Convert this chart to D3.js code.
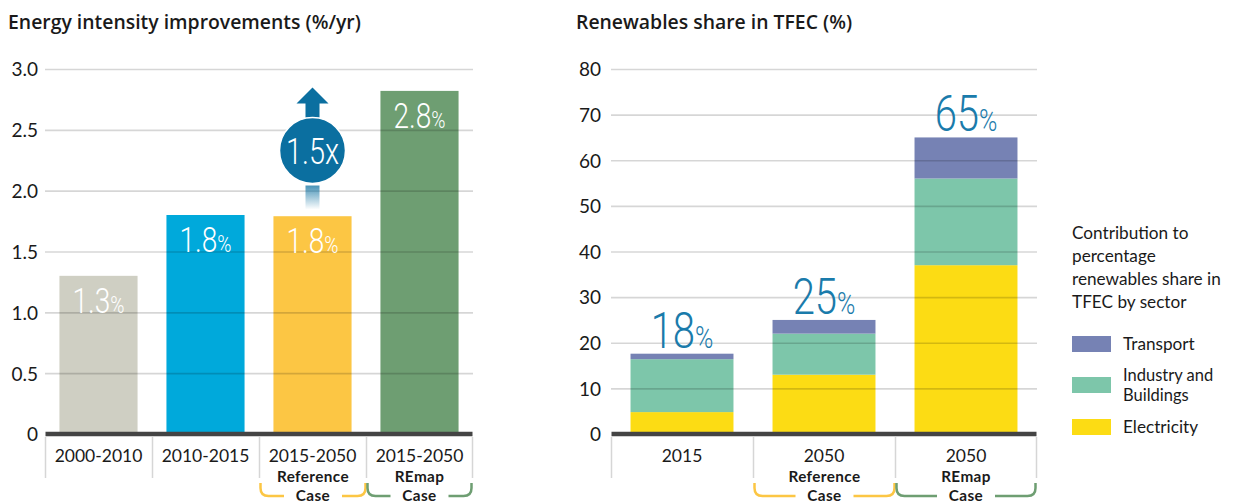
<!DOCTYPE html>
<html><head><meta charset="utf-8">
<script src="https://cdn.jsdelivr.net/npm/d3@7"></script>
<style>
body{margin:0;background:#fff;}
text{font-family:Lato,"Open Sans",sans-serif;fill:#1a1a1a;}
.num{font-family:Roboto,Lato,sans-serif;font-weight:300;}
.ttl{font-family:"Open Sans",Lato,sans-serif;font-weight:600;}
</style></head>
<body><svg id="c" width="1237" height="504"></svg>
<script>
// ---- data: left chart ----
const leftCats = ["2000-2010","2010-2015","2015-2050 Ref","2015-2050 REmap"];
const leftLabels = ["2000-2010","2010-2015","2015-2050","2015-2050"];
const leftValues = [1.3, 1.8, 1.79, 2.82];
const leftText = ["1.3","1.8","1.8","2.8"];
const leftTicks = [0,0.5,1.0,1.5,2.0,2.5,3.0];
const multiplier = "1.5x";
// ---- data: right chart ----
const rightCats = ["2015","2050 Ref","2050 REmap"];
const rightLabels = ["2015","2050","2050"];
const electricity = [4.8, 13.0, 37.0];
const industry = [11.6, 9.0, 19.0];
const transport = [1.2, 3.0, 9.0];
const rightTotals = ["18","25","65"];
const rightTicks = [0,10,20,30,40,50,60,70,80];
const sectors = ["Electricity","Industry and Buildings","Transport"];

const svg = d3.select("#c");
const leftColors = ["#cfcfc3","#00a9db","#fcc644","#6e9e72"];
const secColors = {"Electricity":"#fcdc14","Industry and Buildings":"#7dc6aa","Transport":"#7682b4"};
const blue = "#0b6fa0", labelBlue = "#1a7bab";
const y0 = 434, yTop = 69;

function numLabel(g, x, y, main, sizeMain, sizePct, color){
  const t = g.append("text").attr("class","num")
    .attr("transform",`translate(${x},${y}) scale(0.8,1)`)
    .attr("text-anchor","middle").style("fill",color);
  t.append("tspan").attr("font-size",sizeMain).text(main);
  t.append("tspan").attr("font-size",sizePct).text("%");
}

// ================= LEFT =================
const xL = d3.scaleBand().domain(leftCats).range([45,473]).paddingInner(0.27).paddingOuter(0.135);
const yL = d3.scaleLinear().domain([0,3]).range([y0,yTop]);

svg.append("text").attr("class","ttl").attr("x",8).attr("y",29).attr("font-size",19.4).text("Energy intensity improvements (%/yr)");

const gL = svg.append("g");
gL.selectAll("rect.bar").data(leftValues).join("rect")
  .attr("x",(d,i)=>xL(leftCats[i])).attr("width",xL.bandwidth())
  .attr("y",d=>yL(d)).attr("height",d=>y0-yL(d))
  .attr("fill",(d,i)=>leftColors[i]);

gL.append("g").attr("transform","translate(45,0)")
  .call(d3.axisLeft(yL).tickValues(leftTicks.filter(d=>d>0)).tickSize(-428).tickFormat(""))
  .call(g=>g.select(".domain").remove())
  .call(g=>g.selectAll("line").attr("stroke","#000").attr("stroke-opacity",0.16).attr("stroke-width",1.6));
gL.append("g").attr("transform","translate(38,0)")
  .call(d3.axisLeft(yL).tickValues(leftTicks).tickSize(0).tickPadding(0).tickFormat(d=>d===0?"0":d3.format(".1f")(d)))
  .call(g=>g.select(".domain").remove())
  .call(g=>g.selectAll("text").attr("font-size",19).attr("font-family","Lato,sans-serif").attr("fill","#1a1a1a").attr("dy","0.36em"));

leftValues.forEach((v,i)=>{
  numLabel(gL, xL(leftCats[i])+xL.bandwidth()/2, yL(v)+37, leftText[i], 35, 24, "#fff");
});

// arrow annotation on reference bar
const ax = xL(leftCats[2])+xL.bandwidth()/2;
const defs = svg.append("defs");
const grad = defs.append("linearGradient").attr("id","fade").attr("x1",0).attr("x2",0).attr("y1",0).attr("y2",1);
grad.append("stop").attr("offset","0%").attr("stop-color",blue).attr("stop-opacity",0.75);
grad.append("stop").attr("offset","100%").attr("stop-color",blue).attr("stop-opacity",0);
const cy = yL(2.33), r = 33;
gL.append("rect").attr("x",ax-7).attr("width",14).attr("y",cy+r+2).attr("height",24).attr("fill","url(#fade)");
gL.append("path").attr("fill",blue)
  .attr("d",`M${ax-7},${cy-r+2} V${cy-r-14} H${ax-16} L${ax},${cy-r-30} L${ax+16},${cy-r-14} H${ax+7} V${cy-r+2} Z`);
gL.append("circle").attr("cx",ax).attr("cy",cy).attr("r",r).attr("fill",blue).attr("stroke","#fff").attr("stroke-width",1.5);
gL.append("text").attr("class","num").attr("transform",`translate(${ax},${cy+13}) scale(0.78,1)`)
  .attr("text-anchor","middle").attr("font-size",37).style("fill","#fff").text(multiplier);

function catAxis(g, x, x0, x1, labels, cats){
  const edges = cats.map((c,i)=>x0 + i*x.step()); edges.push(x1);
  g.selectAll("line.div").data(edges).join("line")
    .attr("x1",d=>d).attr("x2",d=>d).attr("y1",y0+3).attr("y2",478)
    .attr("stroke","#d6d6d6").attr("stroke-width",1.5);
  g.append("line").attr("x1",x0).attr("x2",x1).attr("y1",y0).attr("y2",y0).attr("stroke","#444").attr("stroke-width",4.5);
  g.selectAll("text.cat").data(labels).join("text")
    .attr("x",(d,i)=>x(cats[i])+x.bandwidth()/2).attr("y",462)
    .attr("text-anchor","middle").attr("font-size",17.5).text(d=>d);
  return edges;
}
const edgesL = catAxis(gL, xL, 45.5, 472.5, leftLabels, leftCats);

function bracket(g, xa, xb, word, color){
  const cx = (xa+xb)/2, gap = 29, yb = 496, yt = 483;
  g.append("path").attr("fill","none").attr("stroke",color).attr("stroke-width",2.5)
    .attr("d",`M${xa+1},${yt} V${yb-8} Q${xa+1},${yb} ${xa+9},${yb} H${cx-gap} M${cx+gap},${yb} H${xb-9} Q${xb-1},${yb} ${xb-1},${yb-8} V${yt}`);
  g.append("text").attr("x",cx).attr("y",482).attr("text-anchor","middle").attr("font-size",15.3)
    .attr("font-weight",700).attr("letter-spacing",0.4).text(word);
  g.append("text").attr("x",cx).attr("y",501).attr("text-anchor","middle").attr("font-size",15.3)
    .attr("font-weight",700).attr("letter-spacing",0.4).text("Case");
}
bracket(gL, edgesL[2], edgesL[3], "Reference", "#fcc644");
bracket(gL, edgesL[3], edgesL[4], "REmap", "#6e9e72");

// ================= RIGHT =================
const xR = d3.scaleBand().domain(rightCats).range([611,1037]).paddingInner(0.275).paddingOuter(0.1375);
const yR = d3.scaleLinear().domain([0,80]).range([y0,yTop]);

svg.append("text").attr("class","ttl").attr("x",576).attr("y",29).attr("font-size",19.4).text("Renewables share in TFEC (%)");

const gR = svg.append("g");
const table = rightCats.map((c,i)=>({cat:c,"Electricity":electricity[i],"Industry and Buildings":industry[i],"Transport":transport[i]}));
const stacked = d3.stack().keys(sectors)(table);
gR.selectAll("g.s").data(stacked).join("g").attr("fill",d=>secColors[d.key])
  .selectAll("rect").data(d=>d).join("rect")
  .attr("x",d=>xR(d.data.cat)).attr("width",xR.bandwidth())
  .attr("y",d=>yR(d[1])).attr("height",d=>yR(d[0])-yR(d[1]));

gR.append("g").attr("transform","translate(611,0)")
  .call(d3.axisLeft(yR).tickValues(rightTicks.filter(d=>d>0)).tickSize(-426).tickFormat(""))
  .call(g=>g.select(".domain").remove())
  .call(g=>g.selectAll("line").attr("stroke","#000").attr("stroke-opacity",0.16).attr("stroke-width",1.6));
gR.append("g").attr("transform","translate(601,0)")
  .call(d3.axisLeft(yR).tickValues(rightTicks).tickSize(0).tickPadding(0).tickFormat(d3.format("d")))
  .call(g=>g.select(".domain").remove())
  .call(g=>g.selectAll("text").attr("font-size",19).attr("font-family","Lato,sans-serif").attr("fill","#1a1a1a").attr("dy","0.36em"));

table.forEach((d,i)=>{
  const tot = electricity[i]+industry[i]+transport[i];
  numLabel(gR, xR(d.cat)+xR.bandwidth()/2, yR(tot)-6, rightTotals[i], 50, 31, labelBlue);
});

const edgesR = catAxis(gR, xR, 611.5, 1036.5, rightLabels, rightCats);
bracket(gR, edgesR[1], edgesR[2], "Reference", "#fcc644");
bracket(gR, edgesR[2], edgesR[3], "REmap", "#6e9e72");

// legend
const lg = svg.append("g").attr("transform","translate(1072,0)");
["Contribution to","percentage","renewables share in","TFEC by sector"].forEach((t,i)=>{
  lg.append("text").attr("x",0).attr("y",239+i*23).attr("font-size",17.2).text(t);
});
const legItems = [
  {k:"Transport", y:336, lines:["Transport"]},
  {k:"Industry and Buildings", y:377, lines:["Industry and","Buildings"]},
  {k:"Electricity", y:419, lines:["Electricity"]}
];
legItems.forEach(it=>{
  lg.append("rect").attr("x",0).attr("y",it.y).attr("width",39).attr("height",16).attr("fill",secColors[it.k]);
  if(it.lines.length===1){
    lg.append("text").attr("x",51).attr("y",it.y+14).attr("font-size",17.2).text(it.lines[0]);
  } else {
    lg.append("text").attr("x",51).attr("y",it.y+4).attr("font-size",16.5).text(it.lines[0]);
    lg.append("text").attr("x",51).attr("y",it.y+24).attr("font-size",16.5).text(it.lines[1]);
  }
});
</script></body></html>
